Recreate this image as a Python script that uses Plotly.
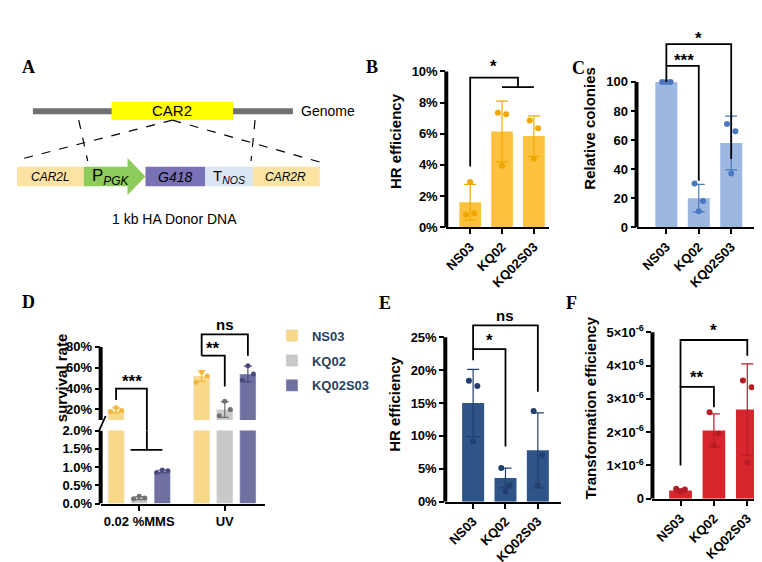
import plotly.graph_objects as go

# ---- data ----
groups = ["NS03", "KQ02", "KQ02S03"]

# B: HR efficiency (%)
b_mean = [1.6, 6.15, 5.85]
b_sd = [1.15, 1.95, 1.3]
b_pts = [[0.8, 0.9, 2.9], [7.35, 7.25, 3.95], [6.85, 6.35, 4.4]]

# C: relative colonies
c_mean = [100, 20, 58]
c_sd = [0, 9.5, 18.5]
c_pts = [[100, 100, 100], [30, 18, 11], [71, 66, 37]]

# D: survival rate (%)
d_conds = ["0.02 %MMS", "UV"]
d_mean = {"NS03": [19, 52], "KQ02": [0.15, 20], "KQ02S03": [0.88, 54]}
d_sd = {"NS03": [2.5, 5], "KQ02": [0.04, 7.5], "KQ02S03": [0.04, 7.5]}
d_pts = {"NS03": [[18, 19, 22], [46, 52, 56]],
         "KQ02": [[0.13, 0.15, 0.2], [14, 20, 28]],
         "KQ02S03": [[0.85, 0.9, 0.92], [48, 54, 62]]}
d_up_ticks = [20, 40, 60, 80]
d_low_ticks = [0, 0.5, 1.0, 1.5, 2.0]

# E: HR efficiency (%)
e_mean = [15, 3.6, 7.8]
e_sd = [5.1, 1.5, 5.7]
e_pts = [[18.4, 17.6, 9.2], [5.1, 2.5, 1.6], [13.8, 7.0, 2.5]]

# F: transformation efficiency
f_mean = [0.25e-6, 2.05e-6, 2.68e-6]
f_sd = [0.05e-6, 0.5e-6, 1.37e-6]
f_pts = [[0.3e-6, 0.28e-6, 0.22e-6], [2.6e-6, 1.95e-6, 1.6e-6], [3.55e-6, 3.35e-6, 1.1e-6]]
f_ticks = [0, 1e-6, 2e-6, 3e-6, 4e-6, 5e-6]
f_ticktext = ["0"] + [f"{i}×10<sup>-6</sup>" for i in range(1, 6)]

FONT = "Liberation Sans"
jit = [-0.13, 0.13, 0.0]
W, H = 762, 562


def px(x0, x1):
    return [x0 / W, x1 / W]


def py(ybot, ytop):
    return [1 - ybot / H, 1 - ytop / H]


fig = go.Figure()


def panel(ax, means, sds, pts, bar_col, dot_col):
    xa, ya = ("x" + ax, "y" + ax)
    fig.add_trace(go.Bar(x=list(range(len(means))), y=means, width=0.68, marker_color=bar_col,
                         marker_line_width=0, xaxis=xa, yaxis=ya, showlegend=False,
                         error_y=dict(type="data", array=sds, color=dot_col, thickness=1.2, width=6)))
    xs, ys = [], []
    for i, p in enumerate(pts):
        for j, v in enumerate(p):
            xs.append(i + jit[j]); ys.append(v)
    fig.add_trace(go.Scatter(x=xs, y=ys, mode="markers", marker=dict(color=dot_col, size=6),
                             xaxis=xa, yaxis=ya, showlegend=False))


panel("2", b_mean, b_sd, b_pts, "rgba(252,186,40,0.9)", "#F0A800")
panel("3", c_mean, c_sd, c_pts, "rgba(140,170,220,0.85)", "#4A78C0")
panel("6", e_mean, e_sd, e_pts, "#2F5487", "#223F6E")
panel("7", f_mean, f_sd, f_pts, "#D8262F", "#B51C24")

# D: broken axis -> upper (x4/y4) and lower (x5/y5)
d_cols = {"NS03": ("#F8D98A", "#F0B93C"), "KQ02": ("#C9C9C9", "#707070"), "KQ02S03": ("#6F6FA0", "#4A4A80")}
d_off = {"NS03": -0.27, "KQ02": 0.0, "KQ02S03": 0.27}
for ax in ("4", "5"):
    for g in groups:
        fig.add_trace(go.Bar(x=[i + d_off[g] for i in range(len(d_conds))], y=d_mean[g], width=0.19,
                             marker_color=d_cols[g][0], name=g, legendgroup=g, showlegend=(ax == "5"),
                             xaxis="x" + ax, yaxis="y" + ax,
                             error_y=dict(type="data", array=d_sd[g], color=d_cols[g][1], thickness=1.2, width=4)))
        xs, ys = [], []
        for i, p in enumerate(d_pts[g]):
            for j, v in enumerate(p):
                xs.append(i + d_off[g] + jit[j] * 0.5); ys.append(v)
        fig.add_trace(go.Scatter(x=xs, y=ys, mode="markers", marker=dict(color=d_cols[g][1], size=5),
                                 xaxis="x" + ax, yaxis="y" + ax, showlegend=False))

# panel A drawing axis (pixel coords)
fig.add_trace(go.Scatter(x=[0], y=[0], mode="markers", marker=dict(opacity=0), xaxis="x", yaxis="y",
                         showlegend=False, hoverinfo="skip"))

tick_font = dict(family=FONT, size=13, color="black", weight="bold")
title_font = dict(family=FONT, size=15, color="black", weight="bold")
axcommon = dict(showline=True, linecolor="black", linewidth=2, ticks="outside", tickwidth=2,
                ticklen=5, tickcolor="black", showgrid=False, zeroline=False, tickfont=tick_font)
# y axes: line drawn as a shape so brackets above the top tick are not clipped
ycommon = dict(axcommon, showline=False)


def pct(vals, fmt="{:g}%"):
    return [fmt.format(v) for v in vals]


layout = dict(
    width=W, height=H, margin=dict(l=0, r=0, t=0, b=0), plot_bgcolor="rgba(0,0,0,0)", paper_bgcolor="white",
    xaxis=dict(domain=px(0, 340), range=[0, 340], visible=False),
    yaxis=dict(domain=py(250, 30), range=[250, 30], visible=False),
    xaxis2=dict(domain=px(437, 540), range=[-0.75, 2.47], anchor="y2", tickvals=[0, 1, 2], ticktext=groups,
                tickangle=-45, **axcommon),
    yaxis2=dict(domain=py(218, 42), range=[0, 11], anchor="x2", tickvals=[0, 2, 4, 6, 8, 10],
                ticktext=pct([0, 2, 4, 6, 8, 10]),
                title=dict(text="HR efficiency", font=title_font, standoff=6), **ycommon),
    xaxis3=dict(domain=px(628, 753), range=[-0.92, 2.92], anchor="y3", tickvals=[0, 1, 2], ticktext=groups,
                tickangle=-45, **axcommon),
    yaxis3=dict(domain=py(218, 15), range=[0, 136], anchor="x3", tickvals=[0, 20, 40, 60, 80, 100],
                title=dict(text="Relative colonies", font=title_font, standoff=6), **ycommon),
    xaxis4=dict(domain=px(90, 255), range=[-0.45, 1.47], anchor="y4", visible=False),
    yaxis4=dict(domain=py(416, 311), range=[10, 108], anchor="x4", tickvals=d_up_ticks,
                ticktext=pct(d_up_ticks), **ycommon),
    xaxis5=dict(domain=px(90, 255), range=[-0.45, 1.47], anchor="y5", tickvals=[0, 1], ticktext=d_conds,
                **axcommon),
    yaxis5=dict(domain=py(502, 427), range=[0, 2.0], anchor="x5", tickvals=d_low_ticks,
                ticktext=pct(d_low_ticks, "{:.1f}%"), **ycommon),
    xaxis6=dict(domain=px(436, 552), range=[-0.86, 2.71], anchor="y6", tickvals=[0, 1, 2], ticktext=groups,
                tickangle=-45, **axcommon),
    yaxis6=dict(domain=py(500, 300), range=[0, 29.6], anchor="x6", tickvals=[0, 5, 10, 15, 20, 25],
                ticktext=pct([0, 5, 10, 15, 20, 25]),
                title=dict(text="HR efficiency", font=title_font, standoff=6), **ycommon),
    xaxis7=dict(domain=px(644, 762), range=[-0.84, 2.68], anchor="y7", tickvals=[0, 1, 2], ticktext=groups,
                tickangle=-45, **axcommon),
    yaxis7=dict(domain=py(497, 311), range=[0, 5.44e-6], anchor="x7", tickvals=f_ticks, ticktext=f_ticktext,
                title=dict(text="Transformation efficiency", font=title_font, standoff=6), **ycommon),
    legend=dict(x=262 / W, y=1 - 314 / H, xanchor="left", yanchor="top",
                font=dict(family=FONT, size=13, weight="bold"),
                bgcolor="rgba(0,0,0,0)", tracegroupgap=5),
    showlegend=True,
)
fig.update_layout(**layout)

shapes, ann = [], []
blk = dict(color="black", width=1.8)


def yline(ax, y0, y1):
    shapes.append(dict(type="line", xref="x" + ax + " domain", yref="y" + ax, x0=0, x1=0, y0=y0, y1=y1,
                       line=dict(color="black", width=4)))


yline("2", 0, 10)
yline("3", 0, 100)
yline("4", 10, 80)
yline("5", 0, 2.0)
yline("6", 0, 25)
yline("7", 0, 5e-6)


def path(ax, d):
    shapes.append(dict(type="path", path=d, xref="x" + ax, yref="y" + ax, line=blk))


def txt(ax, x, y, s, size=17):
    ann.append(dict(x=x, y=y, xref="x" + ax, yref="y" + ax, text=s, showarrow=False,
                    font=dict(family=FONT, size=size, color="black", weight="bold")))


# B
path("2", "M 0,3.9 V 9.6 H 1.5 V 9.0")
path("2", "M 1,9.0 H 2")
txt("2", 0.72, 10.3, "*")
# C
path("3", "M 0,100 V 111 H 1 V 32")
path("3", "M 0,111 V 126 H 2 V 47")
txt("3", 0.55, 115, "***")
txt("3", 1.0, 130, "*")
# D
path("4", "M -0.27,29 V 40 H 0.09 V 10")
shapes.append(dict(type="line", xref="x4", yref="paper", x0=0.09, x1=0.09, y0=py(427, 416)[0],
                   y1=py(427, 416)[1], line=blk))
path("5", "M 0.09,2 V 1.47")
path("5", "M -0.1,1.47 H 0.27")
txt("4", -0.08, 47, "***")
path("4", "M 0.73,71.6 V 92 H 1.27 V 71.6")
path("4", "M 0.73,71.6 H 1.0 V 42")
txt("4", 0.86, 78, "**")
txt("4", 1.0, 101, "ns", 15)
shapes.append(dict(type="line", xref="paper", yref="paper", x0=88 / W, x1=95 / W, y0=1 - 428 / H,
                   y1=1 - 412 / H, line=blk))
# E
path("6", "M 0,21.5 V 23.2 H 1 V 8.4")
path("6", "M 0,23.2 V 26.8 H 2 V 16.7")
txt("6", 0.5, 24.5, "*")
txt("6", 1.0, 28.3, "ns", 15)
# F
path("7", "M 0,1.0e-6 V 3.36e-6 H 1 V 2.75e-6")
path("7", "M 0,3.36e-6 V 4.77e-6 H 2 V 4.3e-6")
txt("7", 0.5, 3.65e-6, "**")
txt("7", 1.0, 5.05e-6, "*")


# A: construct diagram
def rect(x0, x1, y0, y1, col):
    shapes.append(dict(type="rect", xref="x", yref="y", x0=x0, x1=x1, y0=y0, y1=y1, fillcolor=col, line_width=0))


def atext(x, y, s, size=12, anchor="center", italic=False):
    ann.append(dict(x=x, y=y, xref="x", yref="y", text=s, showarrow=False, xanchor=anchor,
                    font=dict(family=FONT, size=size, color="black", style="italic" if italic else "normal")))


shapes.append(dict(type="line", xref="x", yref="y", x0=22, x1=283, y0=99, y1=99,
                   line=dict(color="#707070", width=6)))
rect(101, 223, 89, 108, "#FFFF00")
atext(162, 98, "CAR2", 15)
atext(289, 99, "Genome", 14, "left")
dash = dict(color="black", width=1.2, dash="dash")
for x0, y0, x1, y1 in [(162, 108, 10, 148), (162, 108, 313, 152), (68, 108, 77, 150), (245, 108, 241, 150)]:
    shapes.append(dict(type="line", xref="x", yref="y", x0=x0, y0=y0, x1=x1, y1=y1, line=dash))
rect(6, 73, 156, 176, "#FCE3A4")
shapes.append(dict(type="path", xref="x", yref="y",
                   path="M 73,156 H 117 V 147 L 135,166 L 117,185 V 176 H 73 Z",
                   fillcolor="#8DCB5B", line_width=0))
rect(135, 195, 156, 176, "#7A72B6")
rect(195, 243, 156, 176, "#DCE6F2")
rect(243, 310, 156, 176, "#FCE3A4")
atext(40, 166, "CAR2L", 12, italic=True)
atext(100, 166, "P<sub><i>PGK</i></sub>", 17)
atext(165, 166, "G418", 14, italic=True)
atext(219, 166, "T<sub><i>NOS</i></sub>", 15)
atext(276, 166, "CAR2R", 12, italic=True)
atext(164, 210, "1 kb HA Donor DNA", 14)

for s, x, y in [("A", 9, 41), ("B", 362, 41), ("C", 578, 42), ("D", 9, 295), ("E", 375, 296), ("F", 570, 296)]:
    ann.append(dict(x=x / W, y=1 - y / H, xref="paper", yref="paper", text=s, showarrow=False,
                    font=dict(family="Liberation Serif", size=18, color="black", weight="bold")))

ann.append(dict(x=40 / W, y=1 - 420 / H, xref="paper", yref="paper", text="survival rate", textangle=-90,
                showarrow=False, font=title_font))
fig.update_layout(shapes=shapes, annotations=ann)
fig.write_html("out.html")
